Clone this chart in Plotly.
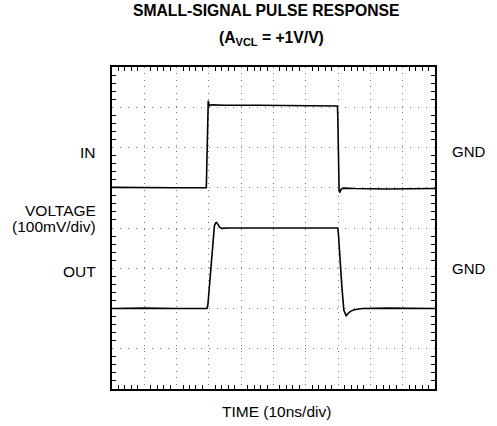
import plotly.graph_objects as go

# time in ns (10 ns/div), voltage in mV (100 mV/div)
in_t = [0, 10, 20, 29.2, 29.4, 29.6, 29.8, 30.0, 30.3, 30.8, 35, 45, 55, 65, 69.8, 69.9, 70.1, 70.3, 70.5, 70.9, 71.5, 75, 85, 100]
in_v = [101, 100, 100, 100, 180, 290, 316, 308, 304, 306, 305, 305, 304, 303, 303, 280, 150, 95, 88, 96, 99, 98, 97, 98]

out_t = [0, 10, 20, 29.4, 29.7, 30.2, 30.7, 31.2, 31.7, 32.1, 32.4, 32.8, 33.3, 34.0, 36, 45, 55, 65, 69.9, 70.1, 70.6, 71.2, 71.8, 72.2, 72.5, 73.0, 73.8, 75.0, 77.5, 85, 100]
out_v = [-200, -199, -200, -200, -190, -140, -80, -30, 5, 13, 14, 9, 2, -1, 0, 0, 0, 1, 0, -15, -80, -150, -205, -216, -218, -213, -207, -203, -200, -199, -200]

BLACK = "#000000"
FONT = "Liberation Sans, Arial, sans-serif"

fig = go.Figure()
fig.add_trace(go.Scatter(x=in_t, y=in_v, mode="lines", line=dict(color=BLACK, width=1.6), hoverinfo="skip"))
fig.add_trace(go.Scatter(x=out_t, y=out_v, mode="lines", line=dict(color=BLACK, width=1.6), hoverinfo="skip"))

L, R, T, B = 112, 62, 67, 37
W, H = 497, 426
pw, ph = W - L - R, H - T - B

def px(x):
    return (x - L) / pw

def py(y):
    return (H - B - y) / ph

ann = []
def lab(text, x, y, xa, size=15.5, bold=False):
    ann.append(dict(text=text, x=px(x), y=py(y), xref="paper", yref="paper",
                    xanchor=xa, yanchor="middle", showarrow=False,
                    font=dict(family=FONT, size=size, color=BLACK, weight="bold" if bold else "normal")))

lab("SMALL-SIGNAL PULSE RESPONSE", 266, 11, "center", 15.7, True)
lab("(A<sub>VCL</sub> = +1V/V)", 271, 38, "center", 15.7, True)
lab("IN", 98, 152, "right")
lab("VOLTAGE", 98, 210, "right")
lab("(100mV/div)", 98, 226, "right")
lab("OUT", 98, 271, "right")
lab("GND", 450, 151, "left", 15)
lab("GND", 450, 268, "left", 15)
lab("TIME (10ns/div)", 276, 411, "center")

fig.update_layout(
    width=W, height=H,
    margin=dict(l=L, r=R, t=T, b=B, pad=0),
    paper_bgcolor="white", plot_bgcolor="white",
    showlegend=False,
    annotations=ann,
)
fig.update_xaxes(range=[0, 100], dtick=10, showticklabels=False,
                 showgrid=True, gridcolor="#777777", gridwidth=1, griddash="1px,5.46px",
                 zeroline=False, showline=True, linecolor=BLACK, linewidth=2, mirror="ticks",
                 ticks="inside", ticklen=0, tickcolor=BLACK,
                 minor=dict(dtick=2, ticks="inside", ticklen=4, tickcolor=BLACK, tickwidth=1, showgrid=False))
fig.update_yaxes(range=[-400, 400], dtick=100, showticklabels=False,
                 showgrid=True, gridcolor="#777777", gridwidth=1, griddash="1px,7.05px",
                 zeroline=False, showline=True, linecolor=BLACK, linewidth=2, mirror="ticks",
                 ticks="inside", ticklen=0, tickcolor=BLACK,
                 minor=dict(dtick=20, ticks="inside", ticklen=4, tickcolor=BLACK, tickwidth=1, showgrid=False))

fig.write_html("out.html", config={"displayModeBar": False},
               post_script="document.body.style.margin='0';document.body.style.padding='0';")
